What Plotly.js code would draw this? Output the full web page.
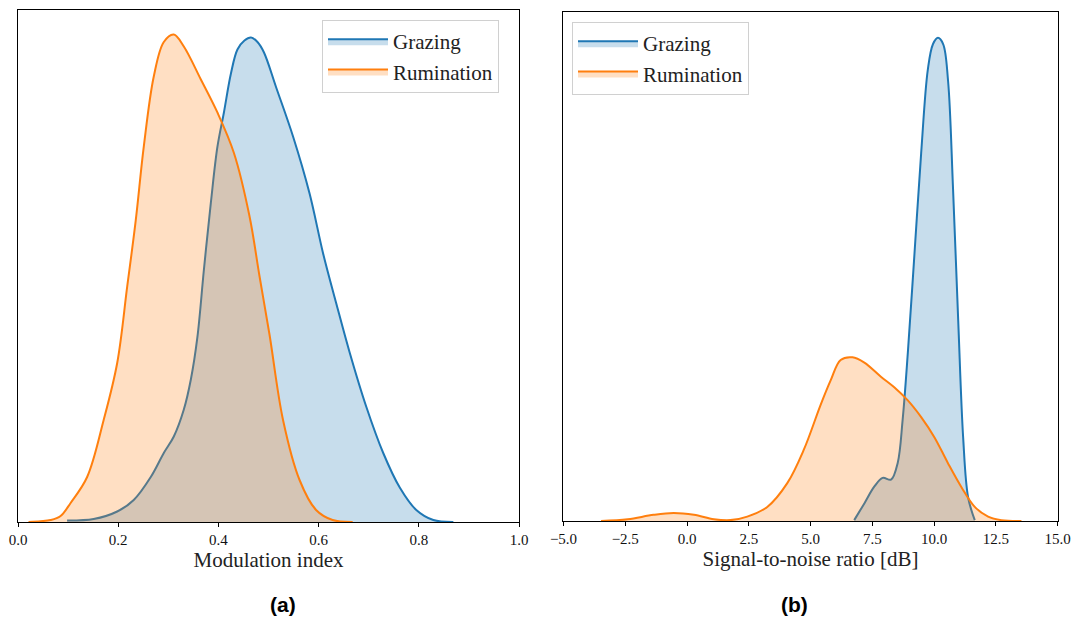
<!DOCTYPE html>
<html>
<head>
<meta charset="utf-8">
<script src="https://cdn.plot.ly/plotly-3.0.1.min.js"></script>
<style>html,body{margin:0;padding:0;background:#fff;}#chart{width:1075px;height:622px;}</style>
</head>
<body>
<div id="chart"></div>
<script>
// Panel (a): modulation index KDE (density)
const modGrazingX = [0.098,0.151,0.198,0.231,0.265,0.291,0.311,0.331,0.345,0.358,0.371,0.385,0.398,0.411,0.425,0.438,0.452,0.465,0.478,0.491,0.515,0.549,0.582,0.609,0.635,0.662,0.695,0.729,0.762,0.795,0.829,0.869];
const modGrazingY = [0.01,0.02,0.07,0.147,0.30,0.46,0.57,0.75,0.95,1.23,1.68,2.13,2.50,2.73,2.99,3.15,3.21,3.23,3.20,3.13,2.90,2.57,2.19,1.79,1.46,1.13,0.77,0.46,0.23,0.08,0.013,0.0];
const modRumX = [0.021,0.045,0.065,0.085,0.105,0.138,0.171,0.198,0.218,0.235,0.251,0.271,0.291,0.311,0.331,0.365,0.398,0.431,0.462,0.482,0.502,0.529,0.562,0.595,0.628,0.668];
const modRumY = [0.0,0.005,0.013,0.04,0.127,0.30,0.68,1.06,1.57,2.01,2.50,2.97,3.20,3.25,3.17,2.95,2.73,2.46,2.04,1.64,1.25,0.68,0.28,0.08,0.013,0.0];

// Panel (b): signal-to-noise ratio KDE (density)
const snrGrazingX = [6.77,7.18,7.58,7.92,8.26,8.53,8.73,8.94,9.21,9.48,9.75,9.96,10.16,10.37,10.57,10.77,10.98,11.18,11.38,11.65];
const snrGrazingY = [0.001,0.020,0.039,0.049,0.047,0.066,0.115,0.191,0.304,0.418,0.513,0.542,0.549,0.542,0.500,0.378,0.228,0.095,0.027,0.001];
const snrRumX = [-3.48,-2.4,-1.35,-0.54,0.28,1.09,1.76,2.44,3.25,4.06,4.73,5.41,5.82,6.22,6.70,7.18,7.85,8.39,8.94,9.48,10.02,10.56,11.1,11.65,12.19,12.73,13.54];
const snrRumY = [0.0,0.002,0.007,0.009,0.007,0.002,0.001,0.005,0.016,0.043,0.081,0.132,0.160,0.183,0.186,0.180,0.164,0.152,0.137,0.118,0.095,0.066,0.039,0.016,0.005,0.001,0.0];

const seriesNames = ['Grazing', 'Rumination'];
const lineColors = ['#1f77b4', '#ff7f0e'];
const fillColors = ['rgba(31,119,180,0.25)', 'rgba(255,127,14,0.25)'];

function kde(x, y, i, xa, ya, show) {
  return {
    x: x, y: y, type: 'scatter', mode: 'lines', name: seriesNames[i],
    xaxis: xa, yaxis: ya, fill: 'tozeroy', fillcolor: fillColors[i],
    line: {color: lineColors[i], width: 2, shape: 'spline', smoothing: 1.0},
    showlegend: true, legend: show, hoverinfo: 'skip'
  };
}

const data = [
  kde(modGrazingX, modGrazingY, 0, 'x', 'y', 'legend'),
  kde(modRumX, modRumY, 1, 'x', 'y', 'legend'),
  kde(snrGrazingX, snrGrazingY, 0, 'x2', 'y2', 'legend2'),
  kde(snrRumX, snrRumY, 1, 'x2', 'y2', 'legend2')
];

const serif = 'Liberation Serif, DejaVu Serif, serif';
const tickFont = {family: serif, size: 15, color: '#111'};
const axBase = {showline: true, linecolor: '#000', linewidth: 1, mirror: true, showgrid: false, zeroline: false, automargin: false};

const legendBase = {
  bgcolor: 'rgba(255,255,255,0.8)', bordercolor: '#d0d0d0', borderwidth: 1,
  font: {family: serif, size: 21, color: '#222'}, xanchor: 'left', yanchor: 'top',
  tracegroupgap: 0, itemwidth: 60
};

const layout = {
  width: 1075, height: 622,
  margin: {l: 0, r: 0, t: 0, b: 0},
  paper_bgcolor: '#fff', plot_bgcolor: '#fff',
  xaxis: Object.assign({}, axBase, {domain: [18/1075, 519/1075], anchor: 'y', range: [0, 1], dtick: 0.2, tick0: 0, tickformat: '.1f', ticks: 'outside', ticklen: 4, tickcolor: '#000', tickfont: tickFont,
    title: {text: 'Modulation index', font: {family: serif, size: 21, color: '#222'}, standoff: 5}}),
  yaxis: Object.assign({}, axBase, {domain: [100/622, 612/622], anchor: 'x', range: [0, 3.413], showticklabels: false, ticks: ''}),
  xaxis2: Object.assign({}, axBase, {domain: [563/1075, 1058/1075], anchor: 'y2', range: [-5.02, 15.02], dtick: 2.5, tick0: 0, tickformat: '.1f', ticks: 'outside', ticklen: 4, tickcolor: '#000', tickfont: tickFont,
    title: {text: 'Signal-to-noise ratio [dB]', font: {family: serif, size: 21, color: '#222'}, standoff: 5}}),
  yaxis2: Object.assign({}, axBase, {domain: [101/622, 610/622], anchor: 'x2', range: [0, 0.5784], showticklabels: false, ticks: ''}),
  legend: Object.assign({}, legendBase, {x: 322/1075, y: (622-20)/622}),
  legend2: Object.assign({}, legendBase, {x: 572/1075, y: (622-22)/622}),
  annotations: [
    {text: '<b>(a)</b>', x: 268/1075, y: (622-604)/622, xref: 'paper', yref: 'paper', yanchor: 'middle', showarrow: false, font: {family: 'Liberation Sans, Arial, sans-serif', size: 21, color: '#000'}},
    {text: '<b>(b)</b>', x: 810/1075, y: (622-604)/622, xref: 'paper', yref: 'paper', yanchor: 'middle', showarrow: false, font: {family: 'Liberation Sans, Arial, sans-serif', size: 21, color: '#000'}}
  ]
};

Plotly.newPlot('chart', data, layout, {staticPlot: true, displayModeBar: false});
</script>
</body>
</html>
